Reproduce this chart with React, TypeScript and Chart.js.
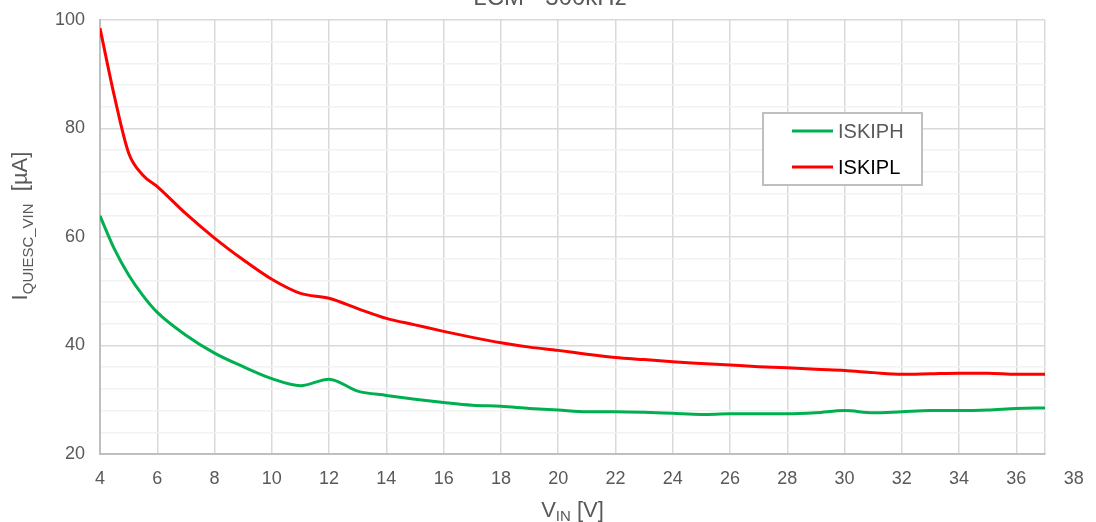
import React, { useEffect, useRef } from "react";
import { Chart, registerables } from "chart.js";

Chart.register(...registerables);

const VIN = [4, 4.5, 5, 5.5, 6, 7, 8, 9, 10, 11, 12, 13, 14, 15, 16, 17, 18, 19, 20, 21, 22, 23, 24, 25, 26, 27, 28, 29, 30, 31, 32, 33, 34, 35, 36, 37];
const ISKIPH = [63.9, 57.8, 53.0, 49.2, 46.1, 41.9, 38.6, 36.1, 33.9, 32.6, 33.8, 31.6, 30.8, 30.1, 29.5, 29.0, 28.8, 28.4, 28.1, 27.8, 27.8, 27.7, 27.5, 27.3, 27.4, 27.4, 27.4, 27.6, 28.0, 27.6, 27.8, 28.0, 28.0, 28.1, 28.4, 28.5];
const ISKIPL = [98.5, 86.0, 75.5, 71.4, 69.3, 64.3, 59.8, 55.8, 52.2, 49.6, 48.7, 46.8, 45.0, 43.8, 42.6, 41.5, 40.5, 39.7, 39.1, 38.4, 37.8, 37.4, 37.0, 36.7, 36.4, 36.1, 35.9, 35.6, 35.4, 35.0, 34.7, 34.8, 34.9, 34.9, 34.7, 34.7];
const X_TICKS = [4, 6, 8, 10, 12, 14, 16, 18, 20, 22, 24, 26, 28, 30, 32, 34, 36];
const X_EXTRA_LABEL = 38;
const X_MIN = 4;
const X_MAX = 37;
const Y_MIN = 20;
const Y_MAX = 100;
const TITLE = "LCM - 300kHz";
const SERIES_NAMES = ["ISKIPH", "ISKIPL"];

const FONT = "'Liberation Sans', Arial, sans-serif";
const GRAY = "#595959";

type Part = { t: string; size: number; dy: number };

function drawParts(ctx: CanvasRenderingContext2D, parts: Part[], cx: number, baseY: number) {
  let total = 0;
  for (const p of parts) {
    ctx.font = `${p.size}px ${FONT}`;
    total += ctx.measureText(p.t).width;
  }
  let x = cx - total / 2;
  ctx.textAlign = "left";
  ctx.textBaseline = "alphabetic";
  for (const p of parts) {
    ctx.font = `${p.size}px ${FONT}`;
    ctx.fillText(p.t, x, baseY + p.dy);
    x += ctx.measureText(p.t).width;
  }
}

const decorPlugin = {
  id: "decor",
  afterDraw(chart: any) {
    const ctx: CanvasRenderingContext2D = chart.ctx;
    const xs = chart.scales.x;
    const area = chart.chartArea;
    ctx.save();
    ctx.fillStyle = GRAY;
    // title (mostly cut off at top)
    ctx.font = `24px ${FONT}`;
    ctx.textAlign = "center";
    ctx.textBaseline = "alphabetic";
    ctx.fillText(TITLE, 550, 5);
    // extra x label
    ctx.font = `18px ${FONT}`;
    ctx.textAlign = "center";
    ctx.textBaseline = "middle";
    ctx.fillText(String(X_EXTRA_LABEL), xs.getPixelForValue(X_EXTRA_LABEL), 479);
    // x title
    drawParts(ctx, [
      { t: "V", size: 22, dy: 0 },
      { t: "IN", size: 15, dy: 4 },
      { t: " [V]", size: 22, dy: 0 },
    ], (area.left + area.right) / 2, 517);
    // y title
    ctx.save();
    ctx.translate(27, 226);
    ctx.rotate(-Math.PI / 2);
    drawParts(ctx, [
      { t: "I", size: 22, dy: 0 },
      { t: "QUIESC_VIN", size: 15, dy: 6 },
      { t: "  [µA]", size: 22, dy: 0 },
    ], 0, 0);
    ctx.restore();
    // legend
    const lx = 763, ly = 113, lw = 159, lh = 72;
    ctx.fillStyle = "#ffffff";
    ctx.fillRect(lx, ly, lw, lh);
    ctx.strokeStyle = "#bfbfbf";
    ctx.lineWidth = 2;
    ctx.strokeRect(lx, ly, lw, lh);
    const ds = chart.data.datasets;
    const rows = [131, 167];
    const textColors = [GRAY, "#000000"];
    for (let i = 0; i < ds.length; i++) {
      ctx.strokeStyle = ds[i].borderColor;
      ctx.lineWidth = 3;
      ctx.beginPath();
      ctx.moveTo(792, rows[i]);
      ctx.lineTo(833, rows[i]);
      ctx.stroke();
      ctx.fillStyle = textColors[i];
      ctx.font = `20px ${FONT}`;
      ctx.textAlign = "left";
      ctx.textBaseline = "middle";
      ctx.fillText(ds[i].label, 838, rows[i] + 1);
    }
    ctx.restore();
  },
};

export default function App() {
  const ref = useRef<HTMLCanvasElement | null>(null);
  useEffect(() => {
    document.body.style.margin = "0";
    const canvas = ref.current!;
    const chart = new Chart(canvas, {
      type: "line",
      data: {
        datasets: [
          {
            label: SERIES_NAMES[0],
            data: VIN.map((v, i) => ({ x: v, y: ISKIPH[i] })),
            borderColor: "#00b050",
            borderWidth: 3,
            pointRadius: 0,
            cubicInterpolationMode: "monotone",
            fill: false,
          },
          {
            label: SERIES_NAMES[1],
            data: VIN.map((v, i) => ({ x: v, y: ISKIPL[i] })),
            borderColor: "#ff0000",
            borderWidth: 3,
            pointRadius: 0,
            cubicInterpolationMode: "monotone",
            fill: false,
          },
        ],
      },
      options: {
        animation: false,
        responsive: false,
        devicePixelRatio: 1,
        layout: { padding: { top: 20, right: 51, left: 0, bottom: 0 } },
        plugins: { legend: { display: false }, title: { display: false }, tooltip: { enabled: false } },
        scales: {
          x: {
            type: "linear",
            min: X_MIN,
            max: X_MAX,
            afterBuildTicks: (s: any) => {
              s.ticks = [...X_TICKS, X_MAX].map((v) => ({ value: v }));
            },
            afterFit: (s: any) => {
              s.height = 68;
              s.paddingLeft = 0;
              s.paddingRight = 0;
            },
            ticks: {
              autoSkip: false,
              maxRotation: 0,
              padding: 14,
              color: GRAY,
              font: { family: FONT, size: 18 },
              callback: (v: any) => (X_TICKS.includes(Number(v)) ? String(v) : ""),
            },
            grid: { color: "#d9d9d9", lineWidth: 1.5, drawTicks: false },
            border: { color: "#bfbfbf", width: 2 },
          },
          y: {
            type: "linear",
            min: Y_MIN,
            max: Y_MAX,
            afterFit: (s: any) => {
              s.width = 100;
              s.paddingTop = 0;
              s.paddingBottom = 0;
            },
            ticks: {
              stepSize: 4,
              autoSkip: false,
              padding: 15,
              color: GRAY,
              font: { family: FONT, size: 18 },
              callback: (v: any) => (Number(v) % 20 === 0 ? String(v) : ""),
            },
            grid: {
              drawTicks: false,
              lineWidth: 1.5,
              color: (c: any) => (c.tick && c.tick.value % 20 === 0 ? "#d9d9d9" : "#f2f2f2"),
            },
            border: { color: "#bfbfbf", width: 2 },
          },
        },
      },
      plugins: [decorPlugin],
    } as any);
    return () => chart.destroy();
  }, []);
  return (
    <div style={{ position: "absolute", left: 0, top: 0, width: 1096, height: 522, background: "#fff" }}>
      <canvas ref={ref} width={1096} height={522} style={{ display: "block" }} />
    </div>
  );
}
